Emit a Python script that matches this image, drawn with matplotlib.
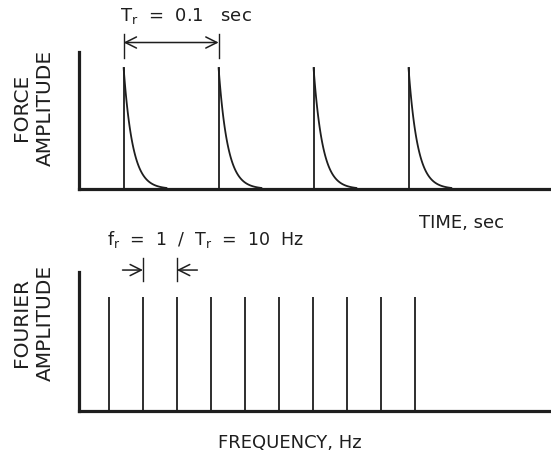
import numpy as np
import matplotlib
matplotlib.use("Agg")
import matplotlib.pyplot as plt

# pulse train (time domain)
pulse_times = [0.047, 0.147, 0.247, 0.347]  # sec
pulse_amp = 1.0
decay_tau = 0.0095  # sec

# line spectrum (frequency domain)
freqs = [10, 20, 30, 40, 50, 60, 70, 80, 90, 100]  # Hz
fourier_amp = [1.0] * len(freqs)

ink = "#1e1e1e"
plt.rcParams["font.family"] = "DejaVu Sans"

fig = plt.figure(figsize=(5.51, 4.61), dpi=100)
ax1 = fig.add_axes([0.1434, 0.590, 0.8566, 0.297])
ax2 = fig.add_axes([0.1434, 0.1085, 0.8566, 0.3015])

for ax in (ax1, ax2):
    for s in ("top", "right"):
        ax.spines[s].set_visible(False)
    for s in ("left", "bottom"):
        ax.spines[s].set_linewidth(2.3)
        ax.spines[s].set_color(ink)
    ax.set_xticks([])
    ax.set_yticks([])

# top: force pulses with exponential decay
for t0 in pulse_times:
    ax1.plot([t0, t0], [0, pulse_amp], color=ink, lw=1.3)
    t = np.linspace(0, 0.045, 100)
    ax1.plot(t0 + t, pulse_amp * np.exp(-t / decay_tau), color=ink, lw=1.3)
ax1.set_xlim(0, 0.497)
ax1.set_ylim(0, pulse_amp / 0.883)

tr = ax1.get_xaxis_transform()
for t0 in pulse_times[:2]:
    ax1.plot([t0, t0], [0.96, 1.135], color=ink, lw=1.0, transform=tr, clip_on=False)
ax1.annotate("", xy=(pulse_times[0], 1.07), xytext=(pulse_times[1], 1.07),
             xycoords=tr, textcoords=tr,
             arrowprops=dict(arrowstyle="<->,head_length=0.8,head_width=0.4",
                             color=ink, lw=1.1, shrinkA=0, shrinkB=0))
ax1.text(0.113, 1.265, "T$_\\mathregular{r}$  =  0.1   sec",
         transform=tr, ha="center", va="center", fontsize=13, color=ink)
ax1.text(0.811, -0.25, "TIME, sec", transform=ax1.transAxes,
         ha="center", va="center", fontsize=13, color=ink)

# bottom: fourier line spectrum
ax2.vlines(freqs, 0, fourier_amp, color=ink, lw=1.3)
ax2.set_xlim(1.2, 140)
ax2.set_ylim(0, 1 / 0.82)

tr2 = ax2.get_xaxis_transform()
for f in freqs[1:3]:
    ax2.plot([f, f], [0.935, 1.10], color=ink, lw=1.0, transform=tr2, clip_on=False)
ax2.annotate("", xy=(freqs[1], 1.014), xytext=(freqs[1] - 6, 1.014),
             xycoords=tr2, textcoords=tr2,
             arrowprops=dict(arrowstyle="->,head_length=0.8,head_width=0.4",
                             color=ink, lw=1.1, shrinkA=0, shrinkB=0))
ax2.annotate("", xy=(freqs[2], 1.014), xytext=(freqs[2] + 6, 1.014),
             xycoords=tr2, textcoords=tr2,
             arrowprops=dict(arrowstyle="->,head_length=0.8,head_width=0.4",
                             color=ink, lw=1.1, shrinkA=0, shrinkB=0))
ax2.text(38.5, 1.235, "f$_\\mathregular{r}$  =  1  /  T$_\\mathregular{r}$  =  10  Hz",
         transform=tr2, ha="center", va="center", fontsize=12.5, color=ink)
ax2.text(0.447, -0.23, "FREQUENCY, Hz", transform=ax2.transAxes,
         ha="center", va="center", fontsize=13, color=ink)

fig.text(0.061, 0.766, "FORCE\nAMPLITUDE", rotation=90, ha="center", va="center",
         fontsize=14.5, color=ink, linespacing=1.3)
fig.text(0.061, 0.30, "FOURIER\nAMPLITUDE", rotation=90, ha="center", va="center",
         fontsize=14.5, color=ink, linespacing=1.3)

fig.savefig("out.png", dpi=100)
